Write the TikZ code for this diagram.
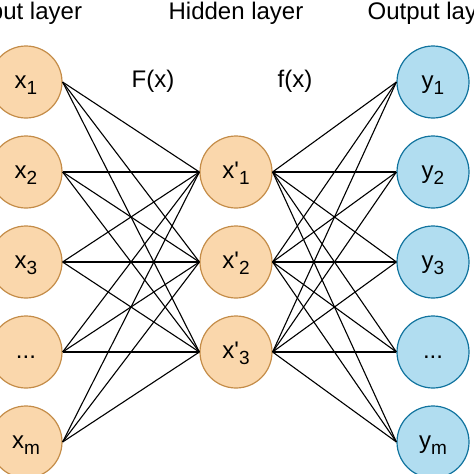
\documentclass[tikz,border=0pt]{standalone}
\usepackage{fontspec}
\setmainfont{Liberation Sans}
\usepackage{tikz}

\definecolor{inFill}{HTML}{FAD7AC}
\definecolor{inLine}{RGB}{196,140,72}
\definecolor{outFill}{HTML}{B1DDF0}
\definecolor{outLine}{HTML}{10739E}
\newcommand{\lsub}[1]{\raisebox{-6pt}{\fontsize{19}{19}\selectfont #1}}

\begin{document}
\begin{tikzpicture}
    [x=1pt, y=-1pt, lbl/.style={anchor=base, font=\fontsize{24}{28}\selectfont}, unit/.style={circle, draw, line width=1.2pt, minimum size=72pt, inner sep=0pt, text height=12.5pt, text depth=0pt, font=\fontsize{24}{28}\selectfont}, inu/.style={unit, fill=inFill, draw=inLine}, outu/.style={unit, fill=outFill, draw=outLine}, wire/.style={black, line width=1.1pt}]
    \useasboundingbox (0,0) rectangle (474,474);
    % layer titles
    \node[lbl] (tin) at (26,19) {Input layer};
    \node[lbl] (thid) at (236,19) {Hidden layer};
    \node[lbl] (tout) at (433,19) {Output layer};
    \node[lbl] (fF) at (153,87) {F(x)};
    \node[lbl] (ff) at (295,87) {f(x)};
    % input layer
    \node[inu] (x1) at (26,82) {x\lsub{1}};
    \node[inu] (x2) at (26,172) {x\lsub{2}};
    \node[inu] (x3) at (26,262) {x\lsub{3}};
    \node[inu] (xd) at (26,352) {...};
    \node[inu] (xm) at (26,442) {x\lsub{m}};
    % hidden layer
    \node[inu] (h1) at (236,172) {x\textquotesingle\lsub{1}};
    \node[inu] (h2) at (236,262) {x\textquotesingle\lsub{2}};
    \node[inu] (h3) at (236,352) {x\textquotesingle\lsub{3}};
    % output layer
    \node[outu] (y1) at (433,82) {y\lsub{1}};
    \node[outu] (y2) at (433,172) {y\lsub{2}};
    \node[outu] (y3) at (433,262) {y\lsub{3}};
    \node[outu] (yd) at (433,352) {...};
    \node[outu] (ym) at (433,442) {y\lsub{m}};
    % F(x)
    \draw[wire] (x1.east) edge (h1.west) edge (h2.west) edge (h3.west);
    \draw[wire] (x2.east) edge (h1.west) edge (h2.west) edge (h3.west);
    \draw[wire] (x3.east) edge (h1.west) edge (h2.west) edge (h3.west);
    \draw[wire] (xd.east) edge (h1.west) edge (h2.west) edge (h3.west);
    \draw[wire] (xm.east) edge (h1.west) edge (h2.west) edge (h3.west);
    % f(x)
    \draw[wire] (y1.west) edge (h1.east) edge (h2.east) edge (h3.east);
    \draw[wire] (y2.west) edge (h1.east) edge (h2.east) edge (h3.east);
    \draw[wire] (y3.west) edge (h1.east) edge (h2.east) edge (h3.east);
    \draw[wire] (yd.west) edge (h1.east) edge (h2.east) edge (h3.east);
    \draw[wire] (ym.west) edge (h1.east) edge (h2.east) edge (h3.east);
\end{tikzpicture}
\end{document}
